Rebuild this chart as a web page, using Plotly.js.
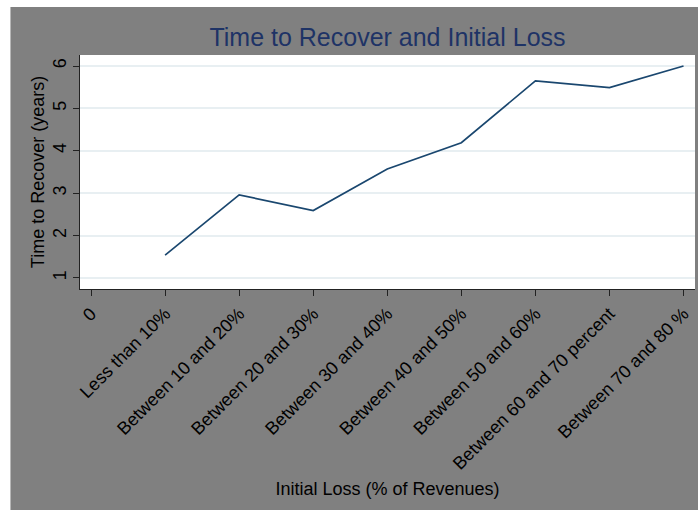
<!DOCTYPE html>
<html>
<head>
<meta charset="utf-8">
<script src="https://cdn.plot.ly/plotly-3.0.1.min.js"></script>
<style>
  html, body { margin: 0; padding: 0; background: #ffffff; width: 698px; height: 510px; overflow: hidden; }
  #chart { position: absolute; left: 10px; top: 7px; width: 688px; height: 503px; border-left: 1px solid #b8b8b8; box-sizing: border-box; }
</style>
</head>
<body>
<div id="chart"></div>
<script>
const categories = [
  "Less than 10%",
  "Between 10 and 20%",
  "Between 20 and 30%",
  "Between 30 and 40%",
  "Between 40 and 50%",
  "Between 50 and 60%",
  "Between 60 and 70 percent",
  "Between 70 and 80 %"
];
const recoveryYears = [1.54, 2.96, 2.59, 3.57, 4.19, 5.65, 5.49, 6.0];
const xTickText = ["0"].concat(categories);
const yTickVals = [1, 2, 3, 4, 5, 6];

const xPos = categories.map((c, i) => i + 1);
const xTickVals = xTickText.map((t, i) => i);

const trace = {
  x: xPos,
  y: recoveryYears,
  text: categories,
  type: "scatter",
  mode: "lines",
  line: { color: "#1a476f", width: 1.7 },
  hovertemplate: "%{text}: %{y}<extra></extra>"
};

const layout = {
  width: 688,
  height: 503,
  paper_bgcolor: "#808080",
  plot_bgcolor: "#ffffff",
  margin: { l: 69, r: 4, t: 48, b: 221 },
  showlegend: false,
  font: { family: "Liberation Sans, Arial, sans-serif", color: "#000000", size: 18 },
  title: {
    text: "Time to Recover and Initial Loss",
    font: { size: 25, color: "#1e3366", family: "Liberation Sans, Arial, sans-serif" },
    x: 0.5, xref: "paper",
    y: 1 - 30 / 503, yref: "container", yanchor: "middle"
  },
  xaxis: {
    range: [-0.149, 8.155],
    tickmode: "array",
    tickvals: xTickVals,
    ticktext: xTickText,
    tickangle: -45,
    ticks: "outside",
    ticklen: 6,
    tickwidth: 1.2,
    tickcolor: "#222222",
    showline: true,
    linecolor: "#222222",
    linewidth: 1.2,
    showgrid: false,
    zeroline: false,
    tickfont: { size: 18, color: "#000000" },
    title: { text: "Initial Loss (% of Revenues)", font: { size: 18, color: "#000000" }, standoff: 9 }
  },
  yaxis: {
    range: [0.74, 6.26],
    tickmode: "array",
    tickvals: yTickVals,
    tickangle: -90,
    ticks: "outside",
    ticklen: 6,
    tickwidth: 1.2,
    tickcolor: "#222222",
    showline: true,
    linecolor: "#222222",
    linewidth: 1.2,
    showgrid: true,
    gridcolor: "#e8eff2",
    gridwidth: 1.5,
    zeroline: false,
    tickfont: { size: 18, color: "#000000" },
    title: { text: "Time to Recover (years)", font: { size: 18, color: "#000000" }, standoff: 0 }
  }
};

Plotly.newPlot("chart", [trace], layout, { displayModeBar: false });
</script>
</body>
</html>
